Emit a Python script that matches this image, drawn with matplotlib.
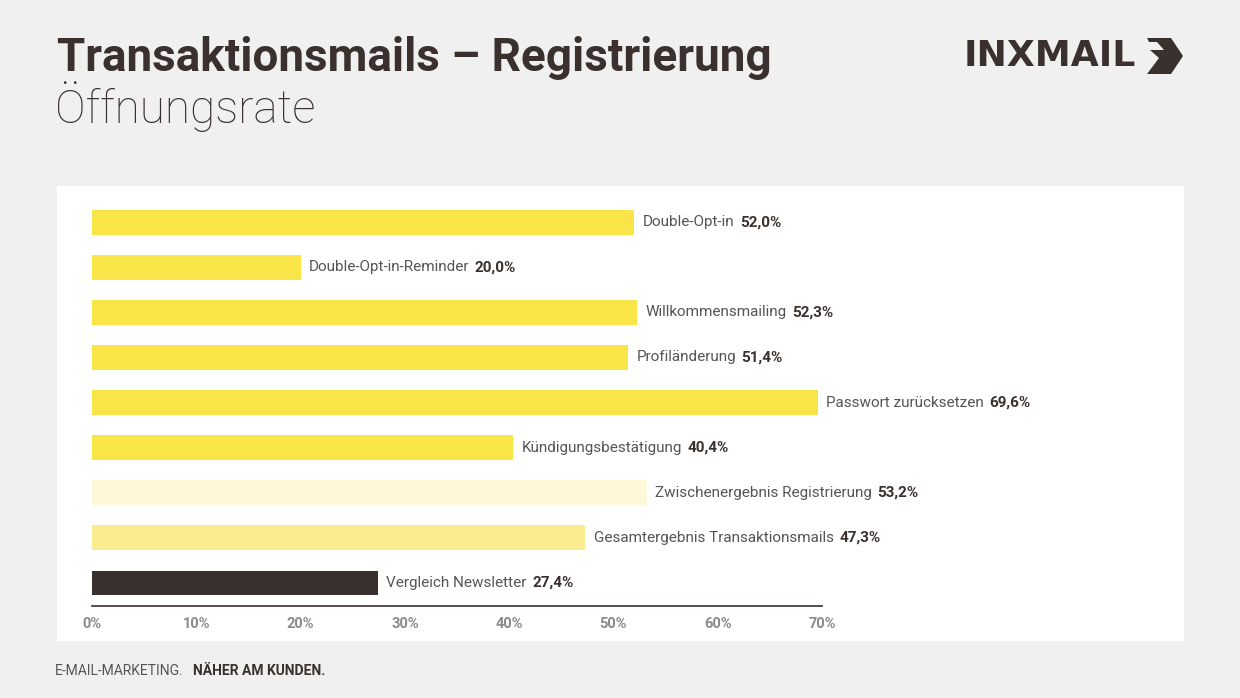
import matplotlib.pyplot as plt
from matplotlib.patches import Rectangle, Polygon

# --- data ---
categories = [
    "Double-Opt-in",
    "Double-Opt-in-Reminder",
    "Willkommensmailing",
    "Profiländerung",
    "Passwort zurücksetzen",
    "Kündigungsbestätigung",
    "Zwischenergebnis Registrierung",
    "Gesamtergebnis Transaktionsmails",
    "Vergleich Newsletter",
]
values = [52.0, 20.0, 52.3, 51.4, 69.6, 40.4, 53.2, 47.3, 27.4]
bar_colors = ["#F9E547"] * 6 + ["#FEF8D8", "#FBEC91", "#3A302D"]
ticks = [0, 10, 20, 30, 40, 50, 60, 70]

DARK = "#3A302D"
BG = "#F0F0F0"
plt.rcParams["font.family"] = ["Roboto", "DejaVu Sans"]

W, H = 1240, 698
fig = plt.figure(figsize=(W / 100, H / 100), dpi=100, facecolor=BG)

# white panel behind the chart
fig.patches.append(Rectangle((57 / W, 1 - 641 / H), (1184 - 57) / W, (641 - 186) / H,
                             transform=fig.transFigure, facecolor="white", edgecolor="none",
                             zorder=-1))

ax = fig.add_axes([92 / W, 1 - 606 / H, 730 / W, 406 / H])
ax.set_zorder(2)
ax.set_facecolor("none")
ypos = [len(values) - 1 - i for i in range(len(values))]
ax.barh(ypos, values, height=0.55, color=bar_colors, zorder=2)
ax.set_xlim(0, 70)
ax.set_ylim(-0.51, 8.49)

for s in ["top", "right", "left"]:
    ax.spines[s].set_visible(False)
ax.spines["bottom"].set_color(DARK)
ax.spines["bottom"].set_linewidth(1.2)
ax.set_yticks([])
ax.set_xticks(ticks)
ax.set_xticklabels([f"{t}%" for t in ticks], fontweight="bold", color="#8A8A8A", fontsize=10.5)
ax.tick_params(axis="x", length=0, pad=8)

# name + bold value next to each bar
for y, v, name in zip(ypos, values, categories):
    t = ax.annotate(name, xy=(v, y), xytext=(6, 0), textcoords="offset points",
                    va="center", ha="left", fontsize=11, color="#555555")
    ax.annotate(f"{v:.1f}%".replace(".", ","), xy=(1, 0.5), xycoords=t,
                xytext=(4, 0), textcoords="offset points", va="center", ha="left",
                fontsize=11, fontweight="bold", color=DARK)

# titles
fig.text(57 / W, 1 - 58 / H, "Transaktionsmails – Registrierung", fontsize=33,
         fontweight="bold", color=DARK, va="center", ha="left")
fig.text(55 / W, 1 - 107 / H, "Öffnungsrate", fontsize=33, color=DARK,
         va="center", ha="left", fontweight="light")

# logo
fig.text(1136 / W, 1 - 56 / H, "INXMAIL", fontsize=26, fontweight="heavy", color=DARK,
         va="center", ha="right", family=["DejaVu Sans"])
lx, ly = 1147, 56
logo = [(lx, ly - 18), (lx + 24, ly - 18), (lx + 36, ly), (lx + 24, ly + 18), (lx, ly + 18),
        (lx + 12, ly + 2), (lx + 3, ly - 6), (lx + 17, ly - 6), (lx + 10, ly - 14), (lx + 2, ly - 14)]
fig.patches.append(Polygon([(x / W, 1 - y / H) for x, y in logo], closed=True,
                           transform=fig.transFigure, facecolor=DARK, edgecolor="none"))

# footer
f1 = fig.text(55 / W, 1 - 671 / H, "E-MAIL-MARKETING.", fontsize=10, color="#555555",
              va="center", ha="left")
ax.annotate("NÄHER AM KUNDEN.", xy=(1, 0.5), xycoords=f1, xytext=(7, 0),
            textcoords="offset points", fontsize=10, color=DARK, fontweight="bold",
            va="center", ha="left", annotation_clip=False)

fig.savefig("out.png", dpi=100, facecolor=BG)
